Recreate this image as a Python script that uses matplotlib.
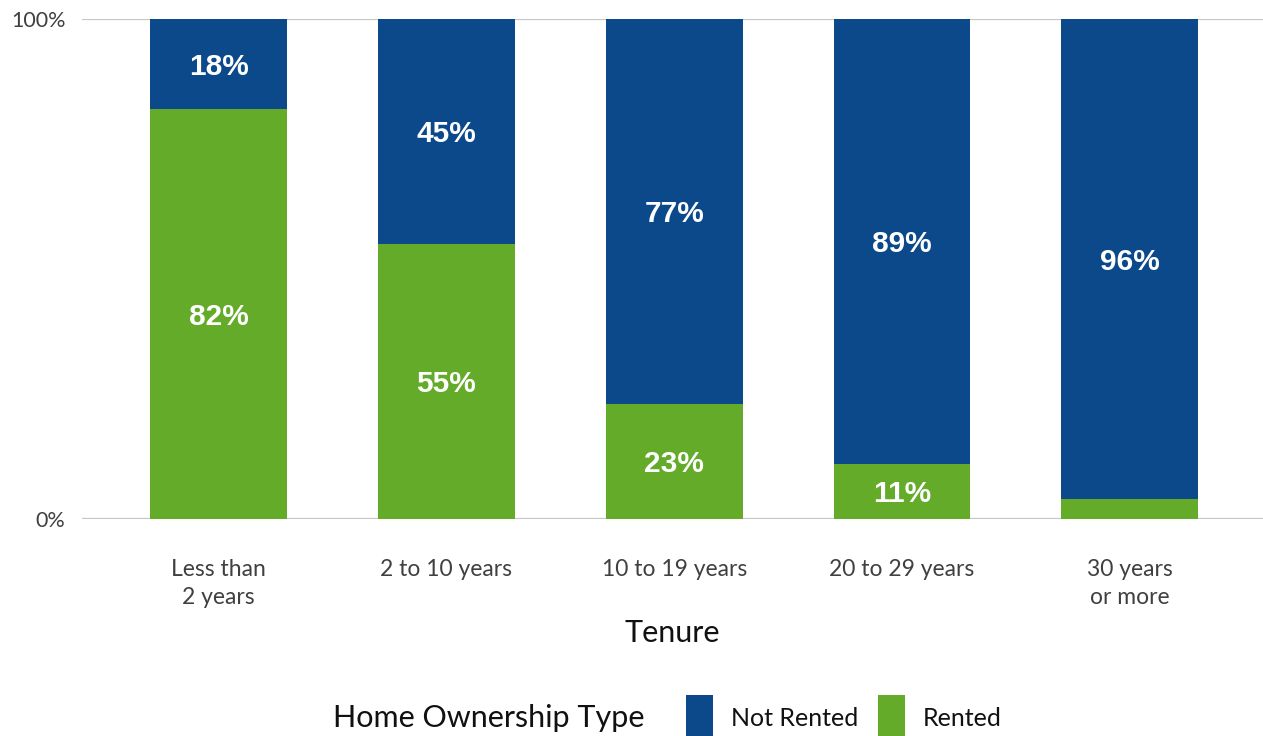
import numpy as np
import matplotlib
matplotlib.use("Agg")
import matplotlib.pyplot as plt
from matplotlib.patches import Rectangle

# tenure groups and share of homes (percent)
tenure = ["Less than\n2 years", "2 to 10 years", "10 to 19 years", "20 to 29 years", "30 years\nor more"]
rented = [82, 55, 23, 11, 4]
not_rented = [18, 45, 77, 89, 96]
# the smallest segment carries no label
rented_labels = ["82%", "55%", "23%", "11%", ""]
not_rented_labels = ["18%", "45%", "77%", "89%", "96%"]

blue = "#0C498B"
green = "#63AB29"
text_grey = "#404040"
body_font = "Lato"

fig = plt.figure(figsize=(12.63, 7.36), dpi=100)
ax = fig.add_axes([82 / 1263, 217 / 736, 1 - 82 / 1263, 500 / 736])

x = np.arange(len(tenure))
bars_r = ax.bar(x, rented, width=0.6, color=green, zorder=3)
bars_n = ax.bar(x, not_rented, width=0.6, bottom=rented, color=blue, zorder=3)

# white value labels in the middle of each segment
for bars, labels in [(bars_r, rented_labels), (bars_n, not_rented_labels)]:
    for b, lab in zip(bars, labels):
        if lab:
            ax.text(b.get_x() + b.get_width() / 2, b.get_y() + b.get_height() / 2, lab,
                    ha="center", va="center_baseline", color="white", fontsize=21.5,
                    fontweight="bold", family="Liberation Sans", zorder=4)

ax.set_xlim(-0.6, 4.585)
ax.set_ylim(0, 100)
ax.set_yticks([0, 100])
ax.set_yticklabels(["0%", "100%"], fontsize=15.5, color=text_grey, family=body_font)
ax.set_xticks(x)
ax.set_xticklabels(tenure, fontsize=16.5, color=text_grey, family=body_font, linespacing=1.38)
ax.tick_params(axis="both", length=0)
ax.tick_params(axis="y", pad=12)
ax.tick_params(axis="x", pad=29)
ax.set_xlabel("Tenure", fontsize=22, color="#111111", family=body_font, labelpad=8)

for s in ax.spines.values():
    s.set_visible(False)
for yv in [0, 100]:
    ax.axhline(yv, color="#C6C6C6", lw=1.6, zorder=1)

# legend drawn along the bottom edge
fig.text(333 / 1263, 18 / 736, "Home Ownership Type", fontsize=22, color="#111111",
         family=body_font, ha="left", va="center")
for x0, col, lab in [(686, blue, "Not Rented"), (878, green, "Rented")]:
    fig.add_artist(Rectangle((x0 / 1263, 0), 27 / 1263, 41 / 736, transform=fig.transFigure,
                             facecolor=col, edgecolor="none"))
    fig.text((x0 + 45) / 1263, 18 / 736, lab, fontsize=18, color="#111111",
             family=body_font, ha="left", va="center")

fig.savefig("out.png", dpi=100)
